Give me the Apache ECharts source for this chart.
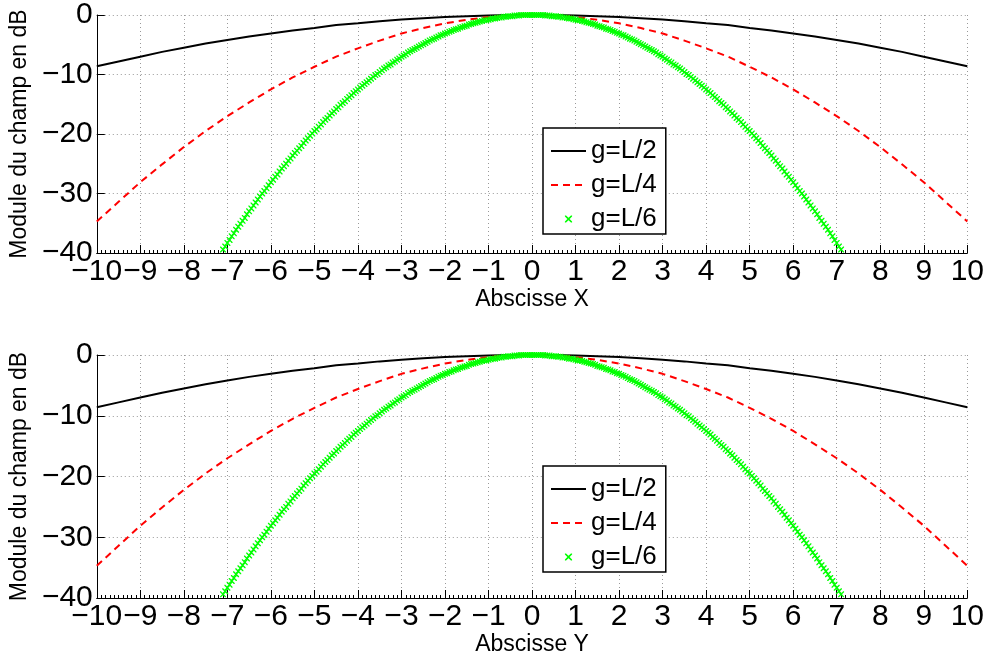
<!DOCTYPE html>
<html>
<head>
<meta charset="utf-8">
<script src="https://cdn.jsdelivr.net/npm/echarts@6/dist/echarts.min.js"></script>
<style>
  html, body { margin: 0; background: #fff; }
  #chart { width: 987px; height: 660px; }
</style>
</head>
<body>
<div id="chart"></div>
<script>
// abscisse des courbes g=L/2 et g=L/4 (pas de 0.5)
const xs = [-10, -9.5, -9, -8.5, -8, -7.5, -7, -6.5, -6, -5.5, -5, -4.5, -4, -3.5, -3, -2.5, -2, -1.5, -1, -0.5,
  0, 0.5, 1, 1.5, 2, 2.5, 3, 3.5, 4, 4.5, 5, 5.5, 6, 6.5, 7, 7.5, 8, 8.5, 9, 9.5, 10];

// g=L/2 (dB)
const gL2 = [-8.6, -7.8, -7.0, -6.2, -5.5, -4.8, -4.2, -3.6, -3.1, -2.6, -2.2, -1.7, -1.4, -1.05, -0.77, -0.54, -0.34, -0.19, -0.09, -0.02,
  0, -0.02, -0.09, -0.19, -0.34, -0.54, -0.77, -1.05, -1.4, -1.7, -2.2, -2.6, -3.1, -3.6, -4.2, -4.8, -5.5, -6.2, -7.0, -7.8, -8.6];

// g=L/4 (dB)
const gL4 = [-34.7, -31.4, -28.1, -25.1, -22.2, -19.5, -17.0, -14.7, -12.5, -10.5, -8.7, -7.0, -5.6, -4.3, -3.1, -2.2, -1.4, -0.8, -0.35, -0.09,
  0, -0.09, -0.35, -0.8, -1.4, -2.2, -3.1, -4.3, -5.6, -7.0, -8.7, -10.5, -12.5, -14.7, -17.0, -19.5, -22.2, -25.1, -28.1, -31.4, -34.7];

// g=L/6 : marqueurs tous les 0.05 de -7.1 a 7.1
const gL6Start = -7.1;
const gL6Step = 0.05;
const gL6 = [
  -39.4, -38.9, -38.3, -37.8, -37.2, -36.7, -36.1, -35.6, -35.1, -34.6,
  -34.1, -33.5, -33.0, -32.5, -32.0, -31.5, -31.0, -30.5, -30.0, -29.6,
  -29.1, -28.6, -28.1, -27.7, -27.2, -26.8, -26.3, -25.8, -25.4, -25.0,
  -24.5, -24.1, -23.6, -23.2, -22.8, -22.4, -22.0, -21.5, -21.1, -20.7,
  -20.3, -19.9, -19.5, -19.2, -18.8, -18.4, -18.0, -17.6, -17.3, -16.9,
  -16.5, -16.2, -15.8, -15.5, -15.1, -14.8, -14.5, -14.1, -13.8, -13.5,
  -13.1, -12.8, -12.5, -12.2, -11.9, -11.6, -11.3, -11.0, -10.7, -10.4,
  -10.1, -9.9, -9.6, -9.3, -9.0, -8.8, -8.5, -8.3, -8.0, -7.8,
  -7.5, -7.3, -7.0, -6.8, -6.6, -6.3, -6.1, -5.9, -5.7, -5.5,
  -5.3, -5.1, -4.9, -4.7, -4.5, -4.3, -4.1, -4.0, -3.8, -3.6,
  -3.4, -3.3, -3.1, -3.0, -2.8, -2.7, -2.5, -2.4, -2.3, -2.1,
  -2.0, -1.9, -1.8, -1.6, -1.5, -1.4, -1.3, -1.2, -1.1, -1.0,
  -0.9, -0.9, -0.8, -0.7, -0.6, -0.6, -0.5, -0.4, -0.4, -0.3,
  -0.3, -0.2, -0.2, -0.2, -0.1, -0.1, -0.1, 0, 0, 0,
  0, 0,
  0,
  0, 0,
  0, 0, 0, -0.1, -0.1, -0.1, -0.2, -0.2, -0.2, -0.3,
  -0.3, -0.4, -0.4, -0.5, -0.6, -0.6, -0.7, -0.8, -0.9, -0.9,
  -1.0, -1.1, -1.2, -1.3, -1.4, -1.5, -1.6, -1.8, -1.9, -2.0,
  -2.1, -2.3, -2.4, -2.5, -2.7, -2.8, -3.0, -3.1, -3.3, -3.4,
  -3.6, -3.8, -4.0, -4.1, -4.3, -4.5, -4.7, -4.9, -5.1, -5.3,
  -5.5, -5.7, -5.9, -6.1, -6.3, -6.6, -6.8, -7.0, -7.3, -7.5,
  -7.8, -8.0, -8.3, -8.5, -8.8, -9.0, -9.3, -9.6, -9.9, -10.1,
  -10.4, -10.7, -11.0, -11.3, -11.6, -11.9, -12.2, -12.5, -12.8, -13.1,
  -13.5, -13.8, -14.1, -14.5, -14.8, -15.1, -15.5, -15.8, -16.2, -16.5,
  -16.9, -17.3, -17.6, -18.0, -18.4, -18.8, -19.2, -19.5, -19.9, -20.3,
  -20.7, -21.1, -21.5, -22.0, -22.4, -22.8, -23.2, -23.6, -24.1, -24.5,
  -25.0, -25.4, -25.8, -26.3, -26.8, -27.2, -27.7, -28.1, -28.6, -29.1,
  -29.6, -30.0, -30.5, -31.0, -31.5, -32.0, -32.5, -33.0, -33.5, -34.1,
  -34.6, -35.1, -35.6, -36.1, -36.7, -37.2, -37.8, -38.3, -38.9, -39.4
];

const seriesNames = ["g=L/2", "g=L/4", "g=L/6"];
const axisNamesX = ["Abscisse X", "Abscisse Y"];
const yName = "Module du champ en dB";

const font = "'Liberation Sans', Arial, Helvetica, sans-serif";
// petite croix pleine pour les marqueurs 'x'
const crossPath = "path://M0,0L1.6,0L5,3.4L8.4,0L10,0L10,1.6L6.6,5L10,8.4L10,10L8.4,10L5,6.6L1.6,10L0,10L0,8.4L3.4,5L0,1.6Z";
const minus = (v) => String(v).replace("-", "\u2212");

const myChart = echarts.init(document.getElementById("chart"));

// grilles : haut et bas
const grids = [
  { left: 89, width: 879, top: 10, height: 243 },
  { left: 89, width: 879, top: 355, height: 243 },
];

const dotted = { show: true, lineStyle: { color: "#999", type: [1, 3], width: 1 } };

const xAxes = grids.map((g, i) => ({
  type: "value",
  gridIndex: i,
  min: -10,
  max: 10,
  interval: 1,
  name: axisNamesX[i],
  nameLocation: "middle",
  nameGap: 34,
  nameTextStyle: { fontSize: 23, fontFamily: font, color: "#000" },
  axisLine: { onZero: false, lineStyle: { color: "#000", width: 1 } },
  axisTick: { inside: true, length: 8, lineStyle: { color: "#000" } },
  minorTick: { show: true, splitNumber: 10, length: 3, lineStyle: { color: "#000" } },
  axisLabel: { fontSize: 30, fontFamily: font, color: "#000", margin: 4, formatter: minus },
  splitLine: dotted,
}));

const yAxes = grids.map((g, i) => ({
  type: "value",
  gridIndex: i,
  min: -40,
  max: 0,
  interval: 10,
  name: yName,
  nameLocation: "middle",
  nameGap: 58,
  nameTextStyle: { fontSize: 23, fontFamily: font, color: "#000" },
  axisLine: { show: true, onZero: false, lineStyle: { color: "#000", width: 1 } },
  axisTick: { show: true, inside: true, length: 8, lineStyle: { color: "#000" } },
  axisLabel: { fontSize: 30, fontFamily: font, color: "#000", margin: 4, formatter: minus },
  splitLine: dotted,
}));

const gL6X = gL6.map((v, j) => +(gL6Start + j * gL6Step).toFixed(2));

const series = [];
grids.forEach((g, i) => {
  series.push({
    name: seriesNames[0],
    type: "line",
    xAxisIndex: i,
    yAxisIndex: i,
    data: xs.map((x, j) => [x, gL2[j]]),
    symbol: "none",
    lineStyle: { color: "#000", width: 2 },
    itemStyle: { color: "transparent" },
  });
  series.push({
    name: seriesNames[1],
    type: "line",
    xAxisIndex: i,
    yAxisIndex: i,
    data: xs.map((x, j) => [x, gL4[j]]),
    symbol: "none",
    lineStyle: { color: "#ff0000", width: 2, type: [7, 5] },
    itemStyle: { color: "transparent" },
  });
  series.push({
    name: seriesNames[2],
    type: "line",
    xAxisIndex: i,
    yAxisIndex: i,
    data: gL6X.map((x, j) => [x, gL6[j]]),
    symbol: crossPath,
    symbolSize: 6,
    showAllSymbol: true,
    lineStyle: { opacity: 0, width: 0 },
    itemStyle: { color: "#00ff00" },
  });
});

const legends = [128, 466].map((top) => ({
  data: seriesNames,
  orient: "vertical",
  left: 543,
  top: top,
  itemWidth: 35,
  itemHeight: 9,
  itemGap: 8,
  padding: [10, 9, 2, 7],
  backgroundColor: "#fff",
  borderColor: "#000",
  borderWidth: 1.5,
  borderRadius: 0,
  selectedMode: false,
  textStyle: { fontSize: 26, fontFamily: font, color: "#000", lineHeight: 26 },
}));

const option = {
  animation: false,
  backgroundColor: "#fff",
  grid: grids,
  xAxis: xAxes,
  yAxis: yAxes,
  legend: legends,
  series: series,
};

option && myChart.setOption(option);
</script>
</body>
</html>
